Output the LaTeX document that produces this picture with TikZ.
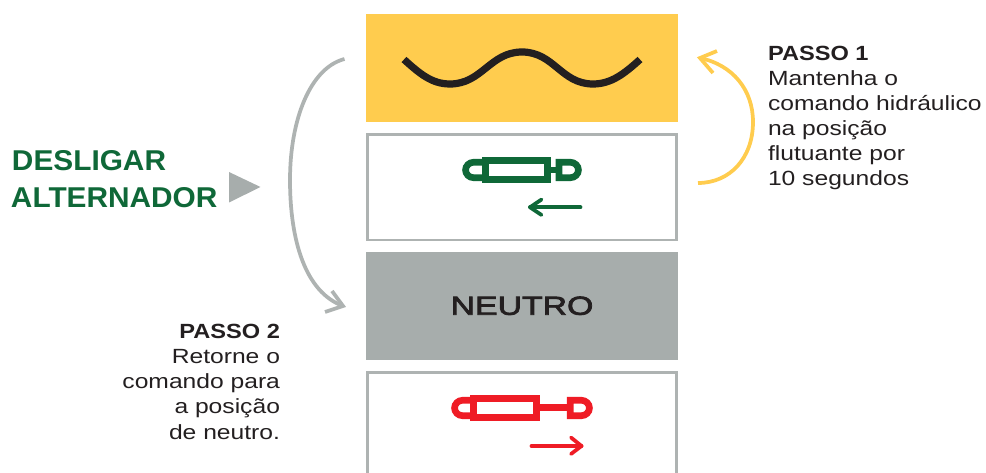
\documentclass[tikz,border=0pt]{standalone}
\usepackage{fontspec}
\setmainfont{Liberation Sans}
\newfontfamily\stepfont[FakeStretch=1.2]{Liberation Sans}
\newfontfamily\passofont[FakeStretch=1.15]{Liberation Sans}
\newfontfamily\headfont[FakeStretch=1.04]{Liberation Sans}
\newfontfamily\neutfont[FakeStretch=1.3,FakeBold=3]{Liberation Sans}
\definecolor{ambar}{HTML}{FFCC4E}
\definecolor{cinza}{HTML}{A7ADAC}
\definecolor{borda}{HTML}{AEB3B2}
\definecolor{verde}{HTML}{0F6838}
\definecolor{verm}{HTML}{EF1C25}
\definecolor{tinta}{HTML}{231F20}
\tikzset{
  x=0.75pt,y=-0.75pt,
  band/.style={minimum width=234pt,minimum height=81pt,inner sep=0pt,outer sep=0pt,anchor=north west},
  framed/.style={draw=borda,line width=1.9pt,fill=white,minimum width=232pt,minimum height=79pt,inner sep=0pt,outer sep=0pt,anchor=north west},
  steptext/.style={font=\stepfont\fontsize{15.4}{18.75}\selectfont,text=tinta,inner sep=0pt,outer sep=0pt},
  passotext/.style={font=\passofont\fontsize{15.4}{18.75}\selectfont\bfseries,text=tinta,inner sep=0pt,outer sep=0pt},
  headtext/.style={font=\headfont\fontsize{21.5}{27.75}\selectfont\bfseries,text=verde,inner sep=0pt,outer sep=0pt},
  hose/.style={line width=5pt,line cap=butt,line join=miter},
  curved/.style={line width=2.8pt,line cap=butt,line join=miter},
  small/.style={line width=2.8pt,line cap=round,line join=round},
}
\begin{document}
\begin{tikzpicture}
\useasboundingbox (0,0) rectangle (986,473);
% bands
\node[band,fill=ambar] (yellowbox) at (366,14) {};
\node[framed] (greenbox) at (367.3,134.7) {};
\node[band,fill=cinza,font=\neutfont\fontsize{19.5}{22}\selectfont,text=tinta] (neutral) at (366,252) {\raisebox{0.5pt}{NEUTRO}};
\begin{scope}
\clip (360,365) rectangle (690,473);
\node[framed,minimum height=90pt] (redbox) at (367.3,372.7) {};
\end{scope}
% wave
\draw[tinta,line width=5.4pt] (404,59.5) .. controls (420,74) and (432,84) .. (450,84)
  .. controls (482,84) and (490,52) .. (522,52)
  .. controls (554,52) and (561,84) .. (593,84)
  .. controls (611,84) and (624,74) .. (640,59.5);
% green cylinder
\begin{scope}[verde,hose]
\draw (485.3,160.3) rectangle (547.7,179.7);
\draw[rounded corners=6pt] (482,162.3) -- (465.5,162.3) -- (465.5,177.7) -- (482,177.7);
\fill (551,166.6) rectangle (557,173.4);
\draw (559,177.7) -- (559,162.3) [rounded corners=6pt] -- (578.5,162.3) -- (578.5,177.7) [sharp corners] -- cycle;
\end{scope}
\coordinate (gs) at (580.5,207.3); \coordinate (ge) at (530,207.3);
\coordinate (g1) at (541.5,199.5); \coordinate (g2) at (541.5,215);
\draw[verde,small] (gs) -- (ge);
\draw[verde,small] (g1) -- (ge) -- (g2);
% red cylinder
\begin{scope}[verm,hose]
\draw (473.5,398.3) rectangle (536.7,417.7);
\draw[rounded corners=6pt] (470,400.3) -- (454.5,400.3) -- (454.5,415.7) -- (470,415.7);
\fill (540,404) rectangle (570,411);
\draw (570.3,415.7) -- (570.3,400.3) [rounded corners=6pt] -- (589.5,400.3) -- (589.5,415.7) [sharp corners] -- cycle;
\end{scope}
\coordinate (rs) at (531.5,446); \coordinate (re) at (581.5,446);
\coordinate (r1) at (571,437.5); \coordinate (r2) at (571,454);
\draw[verm,small] (rs) -- (re);
\draw[verm,small] (r1) -- (re) -- (r2);
% heading
\node[headtext,anchor=base west] (h1) at (12,171) {DESLIGAR};
\node[headtext,anchor=base west] (h2) at (11,208) {ALTERNADOR};
\fill[cinza] (229,172) -- (260.5,187) -- (229,202.5) -- cycle;
% arcs
\coordinate (a1) at (344.5,59); \coordinate (a2) at (343,306);
\coordinate (a3) at (332,291); \coordinate (a4) at (325,312);
\draw[borda,curved] (a1) .. controls (310,68) and (290,120) .. (290,180) .. controls (290,240) and (305,292) .. (a2);
\draw[borda,curved] (a3) -- (a2) -- (a4);
\coordinate (b1) at (698,183); \coordinate (b2) at (700,58);
\coordinate (b3) at (717,51); \coordinate (b4) at (713,73);
\draw[ambar,curved] (b1) .. controls (730,183) and (753,158) .. (753,122) .. controls (753,90) and (733,65) .. (b2);
\draw[ambar,curved] (b3) -- (b2) -- (b4);
% step texts
\node[passotext,anchor=base west] (p1a) at (768,61) {PASSO 1};
\node[steptext,anchor=base west] (p1b) at (768,86) {Mantenha o};
\node[steptext,anchor=base west] (p1c) at (768,111) {comando hidráulico};
\node[steptext,anchor=base west] (p1d) at (768,136) {na posição};
\node[steptext,anchor=base west] (p1e) at (768,161) {flutuante por};
\node[steptext,anchor=base west] (p1f) at (768,186) {10 segundos};
\node[passotext,anchor=base east] (p2a) at (280,339) {PASSO 2};
\node[steptext,anchor=base east] (p2b) at (280,364) {Retorne o};
\node[steptext,anchor=base east] (p2c) at (280,389) {comando para};
\node[steptext,anchor=base east] (p2d) at (280,414) {a posição};
\node[steptext,anchor=base east] (p2e) at (280,439.5) {de neutro.};
\end{tikzpicture}
\end{document}
